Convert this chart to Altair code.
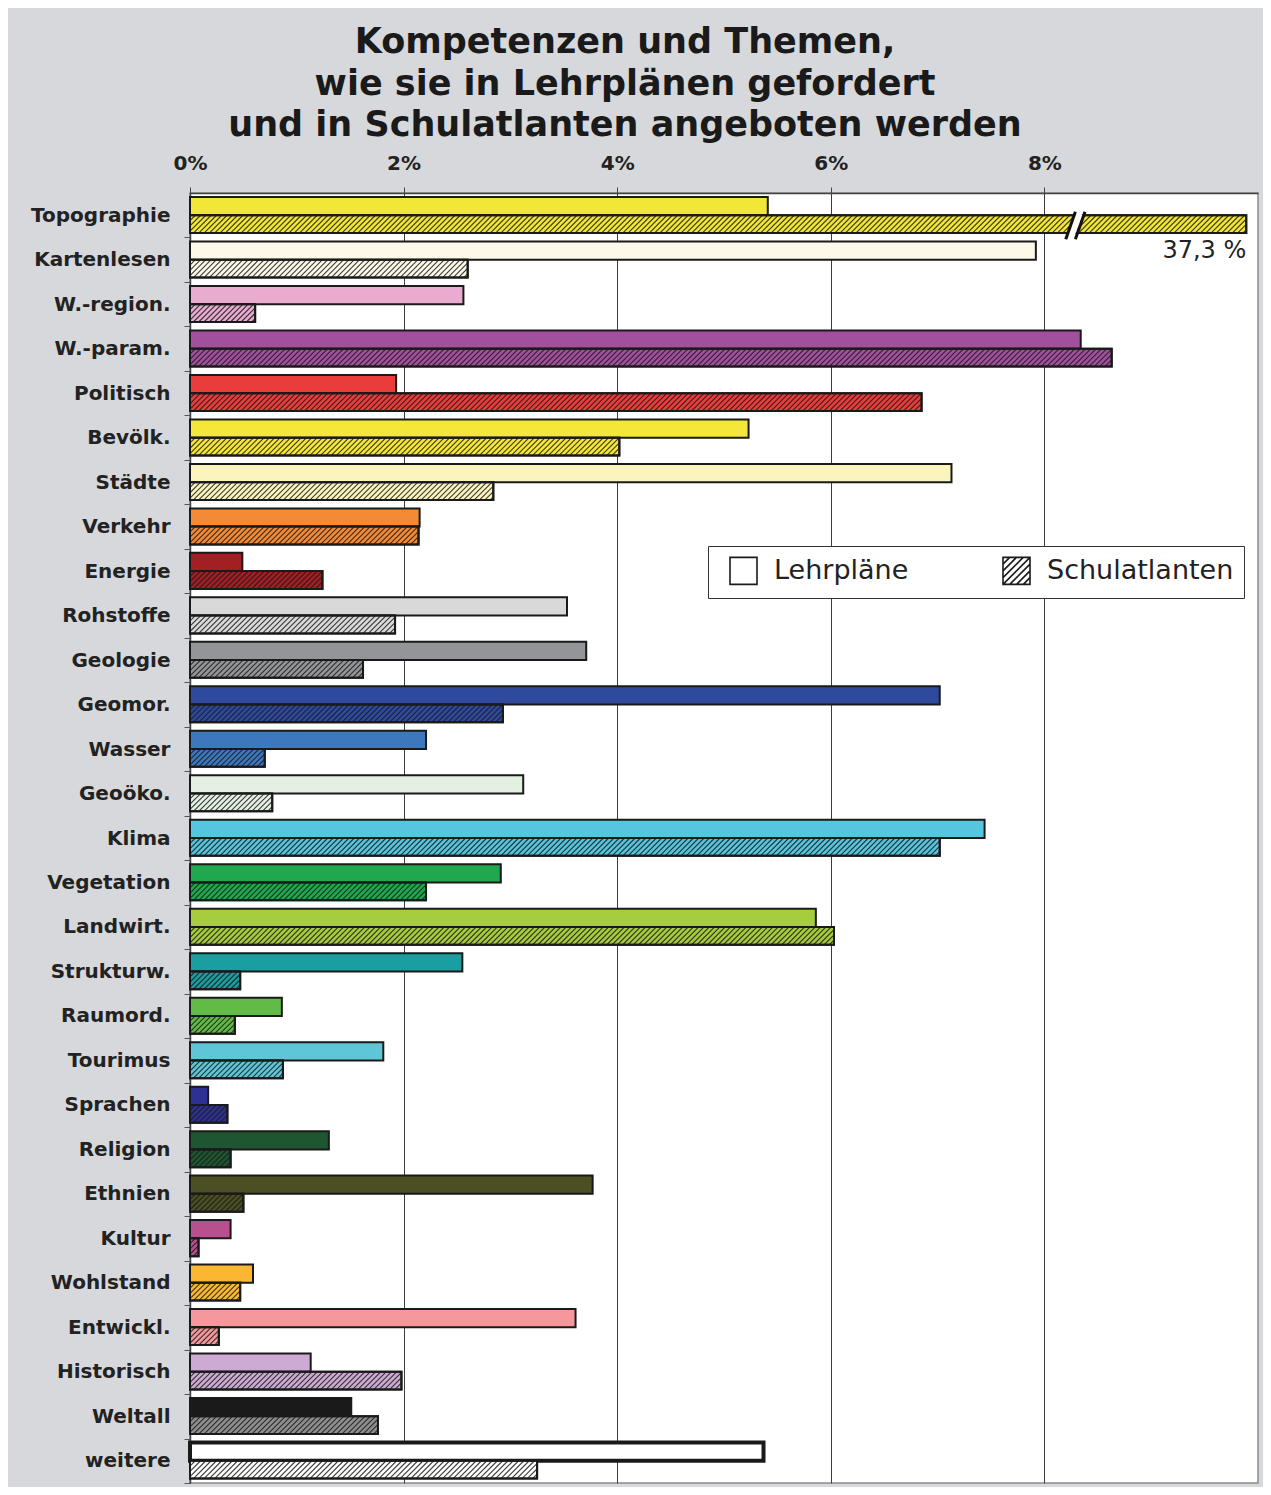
import json
import altair as alt
import pandas as pd

kategorien = ["Topographie", "Kartenlesen", "W.-region.", "W.-param.", "Politisch",
              "Bevölk.", "Städte", "Verkehr", "Energie", "Rohstoffe", "Geologie",
              "Geomor.", "Wasser", "Geoöko.", "Klima", "Vegetation", "Landwirt.",
              "Strukturw.", "Raumord.", "Tourimus", "Sprachen", "Religion", "Ethnien",
              "Kultur", "Wohlstand", "Entwickl.", "Historisch", "Weltall", "weitere"]

lehrplaene = [5.41, 7.92, 2.56, 8.34, 1.93, 5.23, 7.13, 2.15, 0.49, 3.53, 3.71,
              7.02, 2.21, 3.12, 7.44, 2.91, 5.86, 2.55, 0.86, 1.81, 0.17, 1.30,
              3.77, 0.38, 0.59, 3.61, 1.13, 1.51, 5.37]

schulatlanten = [37.3, 2.60, 0.61, 8.63, 6.85, 4.02, 2.84, 2.14, 1.24, 1.92, 1.62,
                 2.93, 0.70, 0.77, 7.02, 2.21, 6.03, 0.47, 0.42, 0.87, 0.35, 0.38,
                 0.50, 0.08, 0.47, 0.27, 1.98, 1.76, 3.25]

serien = ["Lehrpläne", "Schulatlanten"]
x_ticks = [0, 2, 4, 6, 8]

farben_lehrplaene = ["#f2e636", "#fdf9e8", "#e9acd0", "#a24f9e", "#ea3c3a",
                     "#f5e63a", "#fbf4bf", "#f28a36", "#a31f24", "#d9d9d9",
                     "#939598", "#2f4a9d", "#3d78bf", "#e3f0e2", "#56c5de",
                     "#1fa84e", "#a7cd3e", "#1a9fa0", "#62bb46", "#5ec6d6",
                     "#2e3192", "#1e5631", "#4b4f23", "#b8508f", "#fbb731",
                     "#f4989c", "#ccaad4", "#1a1a1a", "#ffffff"]
farben_schulatlanten = farben_lehrplaene[:27] + ["#8e8e8e", "#ffffff"]

# geometry helpers (chart layout)
W, H = 1068, 1290
N = len(kategorien)
X_MAX = 10
ANZEIGE_MAX = 9.89          # broken bar is drawn up to here
ROW_PX = H / N
PX_PER_UNIT = W / X_MAX
BAR_H = 0.4                 # in row units
HATCH_D = BAR_H * ROW_PX / PX_PER_UNIT   # 45 degree hatch
HATCH_STEP = 5.3 / PX_PER_UNIT

rows = []
for i, k in enumerate(kategorien):
    rows.append(dict(kategorie=k, idx=i, serie=serien[0], wert=lehrplaene[i], farbe=farben_lehrplaene[i]))
    rows.append(dict(kategorie=k, idx=i, serie=serien[1], wert=schulatlanten[i], farbe=farben_schulatlanten[i]))
df = pd.DataFrame(rows)

xscale = alt.Scale(domain=[0, X_MAX], nice=False, zero=True)
yscale = alt.Scale(domain=[0, N], reverse=True, nice=False, zero=False)

xaxis = alt.Axis(orient="top", values=x_ticks, labelExpr="datum.value + '%'", grid=True,
                 gridColor="#3c3c3c", gridWidth=1, domainColor="#444", domainWidth=1.5,
                 tickColor="#444", tickSize=6, labelPadding=14, labelFont="DejaVu Sans",
                 labelFontWeight="bold", labelFontSize=20, labelColor="#222",
                 labelFlush=False, title=None)
yaxis = alt.Axis(values=[i + 0.5 for i in range(N)],
                 labelExpr=json.dumps(kategorien, ensure_ascii=False) + "[floor(datum.value)]",
                 grid=False, domainColor="#444", domainWidth=1.5, tickColor="#555",
                 tickSize=6, tickOffset=ROW_PX / 2, labelOffset=-ROW_PX / 2, labelPadding=14,
                 labelFont="DejaVu Sans", labelFontWeight="bold", labelFontSize=20,
                 labelColor="#222", labelOverlap=False, labelBound=False, title=None)


def X(f):
    return alt.X(f, scale=xscale, axis=xaxis, title=None)


def Y(f):
    return alt.Y(f, scale=yscale, axis=yaxis, title=None)


base = alt.Chart(df).transform_calculate(
    anzeige=f"min(datum.wert, {ANZEIGE_MAX})",
    x0="0",
    y0=f"datum.idx + (datum.serie == '{serien[0]}' ? 0.09 : 0.5)",
    y1=f"datum.idx + (datum.serie == '{serien[0]}' ? 0.5 : 0.9)",
)

bars = base.mark_rect(stroke="#1a1a1a").encode(
    x=X("x0:Q"), x2="anzeige:Q", y=Y("y0:Q"), y2="y1:Q",
    fill=alt.Fill("farbe:N", scale=None),
    strokeWidth=alt.condition(f"datum.kategorie == 'weitere' && datum.serie == '{serien[0]}'",
                              alt.value(4), alt.value(2)),
)

hatch = base.transform_filter(f"datum.serie == '{serien[1]}'").transform_calculate(
    seq=f"sequence({-HATCH_D}, datum.anzeige, {HATCH_STEP})"
).transform_flatten(["seq"]).transform_calculate(
    hx1="max(datum.seq, 0)",
    hx2=f"min(datum.seq + {HATCH_D}, datum.anzeige)",
).transform_calculate(
    hy1=f"datum.idx + 0.9 - (datum.hx1 - datum.seq) / {HATCH_D} * {BAR_H}",
    hy2=f"datum.idx + 0.9 - (datum.hx2 - datum.seq) / {HATCH_D} * {BAR_H}",
).transform_filter("datum.hx2 > datum.hx1 + 0.001").mark_rule(
    color="#1a1a1a", strokeWidth=1.1, opacity=0.85
).encode(x=X("hx1:Q"), x2="hx2:Q", y=Y("hy1:Q"), y2="hy2:Q")

outline = base.transform_filter(f"datum.serie == '{serien[1]}'").mark_rect(
    fill="transparent", stroke="#1a1a1a", strokeWidth=2
).encode(x=X("x0:Q"), x2="anzeige:Q", y=Y("y0:Q"), y2="y1:Q")

# axis break marker on the truncated bar
bruch = base.transform_filter(f"datum.wert > {X_MAX}")
bruch_weiss = bruch.transform_calculate(
    bx1="8.245", bx2="8.33", by1="datum.idx + 0.98", by2="datum.idx + 0.46"
).mark_rule(color="white", strokeWidth=7).encode(
    x=X("bx1:Q"), x2="bx2:Q", y=Y("by1:Q"), y2="by2:Q")
bruch_a = bruch.transform_calculate(
    bx1="8.20", bx2="8.29", by1="datum.idx + 1.04", by2="datum.idx + 0.42"
).mark_rule(color="#111", strokeWidth=3).encode(
    x=X("bx1:Q"), x2="bx2:Q", y=Y("by1:Q"), y2="by2:Q")
bruch_b = bruch.transform_calculate(
    bx1="8.29", bx2="8.38", by1="datum.idx + 1.04", by2="datum.idx + 0.42"
).mark_rule(color="#111", strokeWidth=3).encode(
    x=X("bx1:Q"), x2="bx2:Q", y=Y("by1:Q"), y2="by2:Q")

wert_text = bruch.transform_calculate(
    txt="replace(format(datum.wert, '.1f'), '.', ',') + ' %'",
    ty="datum.idx + 1.3",
).mark_text(align="right", baseline="middle", font="DejaVu Sans", fontSize=24,
            color="#222").encode(x=X("anzeige:Q"), y=Y("ty:Q"), text="txt:N")

hatch_path = ("M-1,-1H1V1H-1Z M-1,-0.5L-0.5,-1 M-1,0L0,-1 M-1,0.5L0.5,-1 M-1,1L1,-1 "
              "M-0.5,1L1,-0.5 M0,1L1,0 M0.5,1L1,0.5")
legende = alt.Chart(pd.DataFrame({"serie": serien})).mark_point(
    size=0, filled=False, color="#1a1a1a", strokeWidth=1.6
).encode(
    x=alt.value(0), y=alt.value(0),
    shape=alt.Shape("serie:N", scale=alt.Scale(domain=serien, range=["M-1,-1H1V1H-1Z", hatch_path]),
                    legend=alt.Legend(title=None, orient="none", legendX=518, legendY=353,
                                      direction="horizontal", columns=2, columnPadding=82,
                                      fillColor="white", strokeColor="#333", padding=10,
                                      symbolSize=729, symbolStrokeWidth=1.6,
                                      symbolStrokeColor="#1a1a1a", symbolFillColor="white",
                                      symbolOpacity=1, symbolOffset=11, labelFont="DejaVu Sans",
                                      labelFontSize=27, labelColor="#222", labelOffset=16,
                                      labelLimit=400)),
)

chart = alt.layer(bars, hatch, outline, bruch_weiss, bruch_a, bruch_b, wert_text, legende).properties(
    width=W, height=H,
    title=alt.Title(["Kompetenzen und Themen,", "wie sie in Lehrplänen gefordert",
                     "und in Schulatlanten angeboten werden"],
                    font="DejaVu Sans", fontSize=35, fontWeight="bold", color="#1a1a1a",
                    lineHeight=41.5, anchor="middle", frame="group", dx=-99, offset=10),
    autosize=alt.AutoSizeParams(type="none"),
    padding={"left": 182, "top": 185, "right": 5, "bottom": 4},
    background="#d6d8db",
).configure_view(fill="white", stroke="#8a8a8a", strokeWidth=1.5)

chart.save("out.html", embed_options={"renderer": "svg", "actions": False})
